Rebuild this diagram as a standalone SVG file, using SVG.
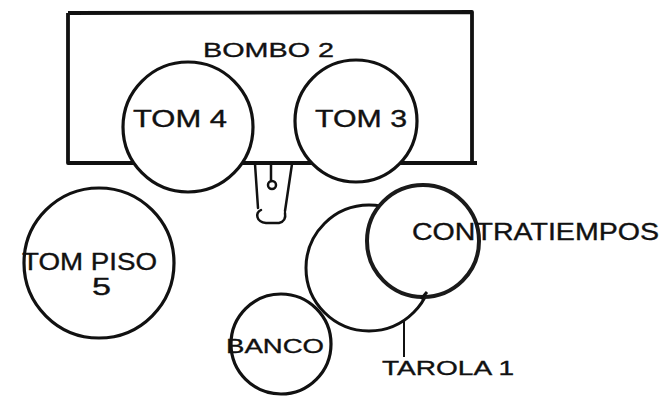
<svg xmlns="http://www.w3.org/2000/svg" width="670" height="398" viewBox="0 0 670 398">
  <style>
    .lbl { font-family: "Liberation Sans", Arial, sans-serif; fill: #111; stroke: #111; stroke-width: 0.35; }
    .drum { fill: #fff; stroke: #111; stroke-width: 3.2; }
    .thin { fill: none; stroke: #111; stroke-width: 2.5; stroke-linecap: round; }
  </style>
  <rect width="670" height="398" fill="#fff"/>

  <!-- bass drum seen from above -->
  <g id="bombo">
    <path d="M68,13 L472,12 L472,163 L477,163 M68,13 L68,163 L472,163" fill="none" stroke="#111" stroke-width="3.8" stroke-linejoin="round"/>
    <text class="lbl" x="203" y="57" font-size="21" textLength="131" lengthAdjust="spacingAndGlyphs">BOMBO 2</text>
  </g>

  <!-- bass drum pedal -->
  <g id="pedal">
    <path class="thin" d="M255,164 L258,208"/>
    <path class="thin" d="M292,164 L285,211"/>
    <path class="thin" d="M261,210 C255,213 256,222 266,223 L279,223 C284,222 286,218 285,213"/>
    <path class="thin" d="M271,164 L271,181"/>
    <circle cx="272" cy="185" r="4" class="thin"/>
  </g>

  <g id="tom4">
    <circle class="drum" cx="188" cy="127" r="65"/>
    <text class="lbl" x="133" y="127" font-size="23" textLength="94" lengthAdjust="spacingAndGlyphs">TOM 4</text>
  </g>

  <g id="tom3">
    <circle class="drum" cx="356" cy="121" r="61"/>
    <text class="lbl" x="315" y="127" font-size="23" textLength="92" lengthAdjust="spacingAndGlyphs">TOM 3</text>
  </g>

  <g id="tom-piso">
    <circle class="drum" cx="99" cy="263" r="75" stroke-width="3.6"/>
    <text class="lbl" x="22" y="270" font-size="23" textLength="135" lengthAdjust="spacingAndGlyphs">TOM PISO</text>
    <text class="lbl" x="92" y="295" font-size="23" textLength="19" lengthAdjust="spacingAndGlyphs">5</text>
  </g>

  <g id="banco">
    <circle class="drum" cx="281" cy="344" r="50"/>
    <text class="lbl" x="226" y="353" font-size="21" textLength="98" lengthAdjust="spacingAndGlyphs">BANCO</text>
  </g>

  <g id="tarola">
    <circle cx="369" cy="268" r="63" fill="none" stroke="#111" stroke-width="3"/>
    <text class="lbl" x="382" y="375" font-size="21" textLength="132" lengthAdjust="spacingAndGlyphs">TAROLA 1</text>
  </g>

  <g id="contratiempos">
    <circle cx="423" cy="241" r="56" fill="#fff" stroke="#1a1a1a" stroke-width="4"/>
    <text class="lbl" x="412" y="240" font-size="23" textLength="247" lengthAdjust="spacingAndGlyphs">CONTRATIEMPOS</text>
  </g>

  <!-- label leader -->
  <g id="connectors">
    <path d="M404,320 L404,357" stroke="#111" stroke-width="2" fill="none"/>
    <path d="M421,299 L427,292" stroke="#111" stroke-width="3" fill="none"/>
  </g>
</svg>
